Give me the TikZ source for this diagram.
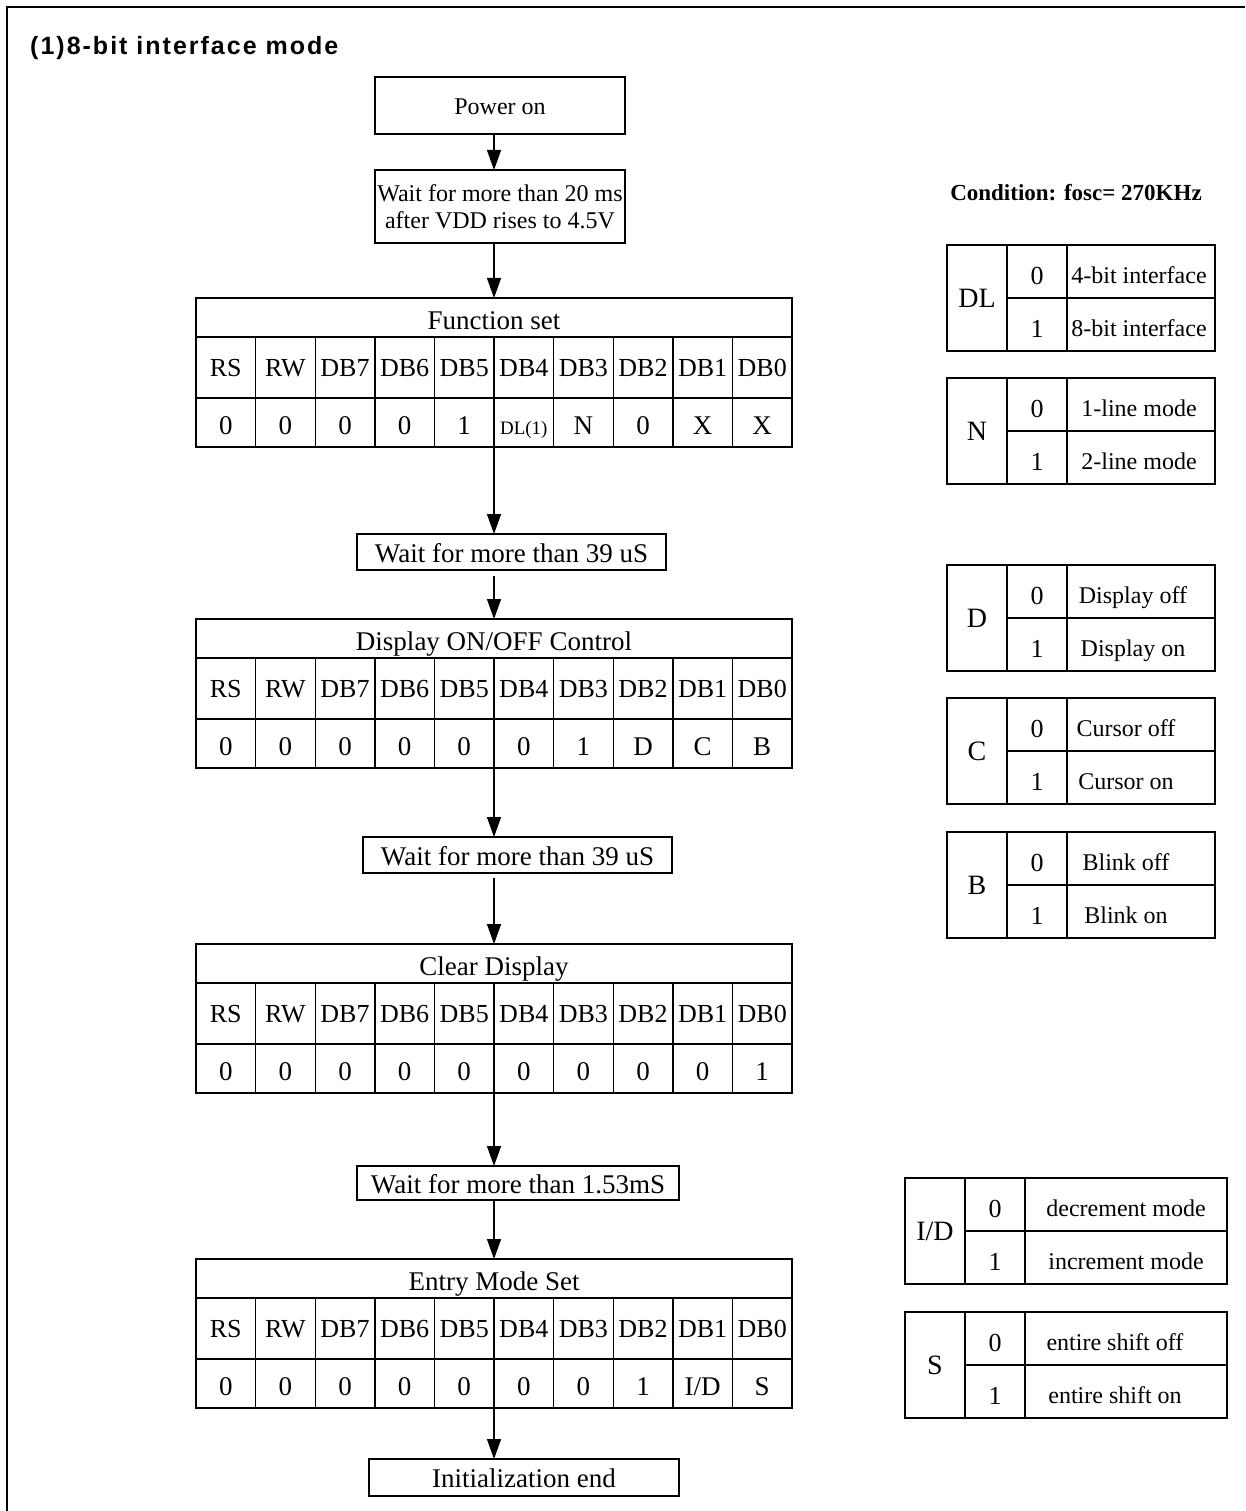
\documentclass[tikz,border=0pt]{standalone}
\usepackage{fontspec}
\setmainfont{Liberation Serif}
\newfontfamily\titlefont[LetterSpace=8]{Liberation Sans}
\usetikzlibrary{arrows.meta}
\tikzset{
  tl/.style={line width=1.4pt},
  tbl/.style={draw, line width=1.4pt, inner sep=0pt, outer sep=0pt},
  txt/.style={inner sep=0pt, outer sep=0pt, text depth=0pt},
  ttl/.style={txt, font=\fontsize{27}{30}\selectfont, text height=24pt},
  hdr/.style={txt, font=\fontsize{26}{28}\selectfont, text height=17.5pt},
  val/.style={txt, font=\fontsize{27}{30}\selectfont, text height=24pt},
  big/.style={txt, font=\fontsize{28}{30}\selectfont, text height=19pt},
  opt/.style={txt, font=\fontsize{26}{28}\selectfont, text height=26pt},
  lab/.style={txt, font=\fontsize{24}{26}\selectfont, text height=24pt},
  stepbox/.style={draw, line width=1.4pt, inner sep=0pt, outer sep=0pt},
  stepone/.style={stepbox, font=\fontsize{27}{30}\selectfont, text height=20pt, text depth=0pt},
  arr/.style={line width=1.4pt, -{Triangle[length=20pt,width=14pt]}},
}
\newcommand\bittable[4]{%
  \node[tbl, minimum width=596, minimum height=149, anchor=north west] (#1) at (196,#2) {};
  \node[ttl] (#1t) at (494,#2+19.5) {#3};
  \draw[tl] (196,#2+39) -- (792,#2+39);
  \draw[tl] (196,#2+100) -- (792,#2+100);
  \foreach \i in {1,...,9}{\draw[tl] ({196+59.6*\i},#2+39) -- ({196+59.6*\i},#2+149);}
  \foreach \h [count=\i] in {RS,RW,DB7,DB6,DB5,DB4,DB3,DB2,DB1,DB0}{\node[hdr] (#1h\i) at ({196+59.6*\i-29.8},#2+69.5) {\h};}
  \foreach \v [count=\i] in {#4}{\node[val] (#1v\i) at ({196+59.6*\i-29.8},#2+124.5) {\v};}
}
\newcommand\opttable[8]{%
  \node[tbl, minimum width=#3-#2, minimum height=106, anchor=north west] (#1) at (#2,#4) {};
  \draw[tl] (#2+60,#4) -- (#2+60,#4+106);
  \draw[tl] (#2+120,#4) -- (#2+120,#4+106);
  \draw[tl] (#2+60,#4+53) -- (#3,#4+53);
  \node[big] (#1L) at (#2+30,#4+53) {#5};
  \node[opt] (#1d0) at (#2+90,#4+26.5) {0};
  \node[opt] (#1d1) at (#2+90,#4+79.5) {1};
  \node[lab] (#1t0) at (#8,#4+26.5) {#6};
  \node[lab] (#1t1) at (#8,#4+79.5) {#7};
}
\begin{document}
\begin{tikzpicture}[x=1pt,y=-1pt]
\useasboundingbox (0,0) rectangle (1245,1511);
% outer frame
\draw[line width=2.5pt] (7,1511) -- (7,7) -- (1245,7);
% title
\node[anchor=west, inner sep=0pt, text height=18pt, text depth=0pt,
      font=\titlefont\bfseries\fontsize{25}{27}\selectfont] (title) at (30,46) {(1)8-bit interface mode};
\node[inner sep=0pt, text height=16pt, text depth=0pt,
      font=\bfseries\fontsize{23}{25}\selectfont] (cond) at (1076,193) {Condition: fosc= 270KHz};
\coordinate (ax) at (494,0);
% flow boxes
\node[stepbox, minimum width=250, minimum height=57, font=\fontsize{24}{26}\selectfont, text height=19pt, text depth=0pt] (pw) at (500,105.5) {Power on};
\node[stepbox, minimum width=250, minimum height=73, align=center, font=\fontsize{24}{27}\selectfont] (w20) at (500,206.5) {Wait for more than 20 ms\\after VDD rises to 4.5V};
\bittable{fs}{298}{Function set}{0,0,0,0,1,{\fontsize{19}{19}\selectfont DL(1)},N,0,X,X}
\node[stepone, minimum width=309, minimum height=36] (w1) at (511.5,552) {Wait for more than 39 uS};
\bittable{dc}{619}{Display ON/OFF Control}{0,0,0,0,0,0,1,D,C,B}
\node[stepone, minimum width=309, minimum height=36] (w2) at (517.5,855) {Wait for more than 39 uS};
\bittable{cd}{944}{Clear Display}{0,0,0,0,0,0,0,0,0,1}
\node[stepone, minimum width=322, minimum height=34] (w3) at (518,1183) {Wait for more than 1.53mS};
\bittable{em}{1259}{Entry Mode Set}{0,0,0,0,0,0,0,1,{I/D},S}
\node[stepone, minimum width=310, minimum height=37] (ie) at (524,1477.5) {Initialization end};
% arrows
\draw[arr] (pw.south -| ax) -- (w20.north -| ax);
\draw[arr] (w20.south -| ax) -- (fs.north -| ax);
\draw[arr] (fs.south -| ax) -- (w1.north -| ax);
\draw[arr, shorten <=6pt] (w1.south -| ax) -- (dc.north -| ax);
\draw[arr] (dc.south -| ax) -- (w2.north -| ax);
\draw[arr, shorten <=5pt] (w2.south -| ax) -- (cd.north -| ax);
\draw[arr] (cd.south -| ax) -- (w3.north -| ax);
\draw[arr] (w3.south -| ax) -- (em.north -| ax);
\draw[arr] (em.south -| ax) -- (ie.north -| ax);
% option tables
\opttable{dl}{947}{1215}{245}{DL}{4-bit interface}{8-bit interface}{1139}
\opttable{nn}{947}{1215}{378}{N}{1-line mode}{2-line mode}{1139}
\opttable{dd}{947}{1215}{565}{D}{Display off}{Display on}{1133}
\opttable{cc}{947}{1215}{698}{C}{Cursor off}{Cursor on}{1126}
\opttable{bb}{947}{1215}{832}{B}{Blink off}{Blink on}{1126}
\opttable{id}{905}{1227}{1178}{I/D}{decrement mode}{increment mode}{1126}
\opttable{ss}{905}{1227}{1312}{S}{entire shift off}{entire shift on}{1115}
\end{tikzpicture}
\end{document}
